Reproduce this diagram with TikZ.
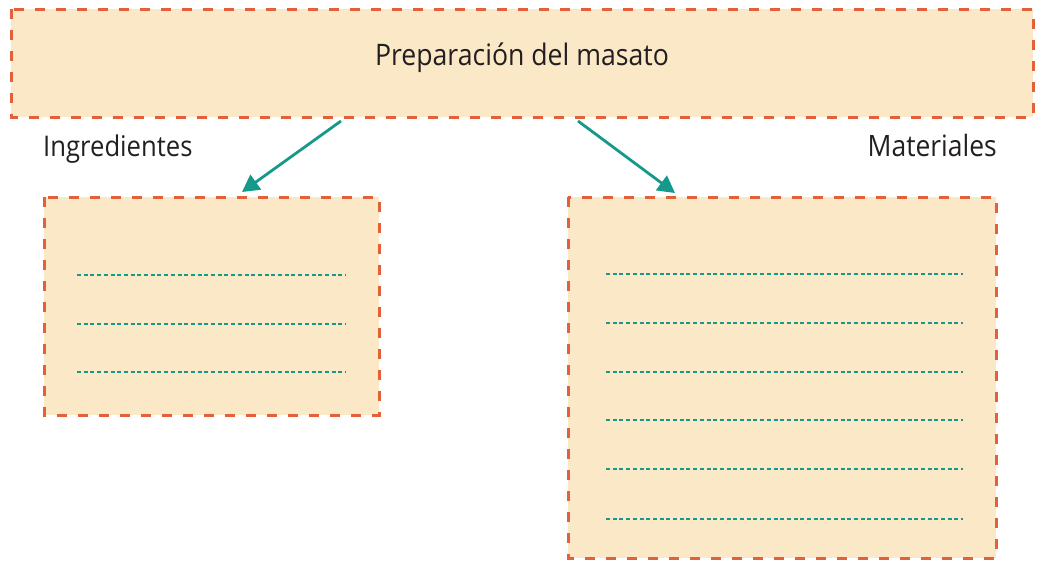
\documentclass[tikz,border=0pt]{standalone}
\usepackage{fontspec}
\setmainfont[FakeStretch=0.9]{Open Sans}
\usetikzlibrary{arrows.meta}
\definecolor{boxfill}{HTML}{FBE8C6}
\definecolor{boxdash}{HTML}{E2613B}
\definecolor{teal}{HTML}{14998B}
\definecolor{txt}{HTML}{231F20}
\tikzset{
  dbox/.style={draw=boxdash, fill=boxfill, line width=3pt, dash pattern=on 10pt off 11pt},
  wline/.style={draw=teal, line width=1.3pt, dash pattern=on 4pt off 2.7pt},
  arr/.style={draw=teal, line width=2.8pt, -{Triangle[length=17pt,width=18pt]}},
  lbl/.style={font=\fontsize{28.5}{32}\selectfont, text=txt, inner sep=0pt},
}
\begin{document}
\begin{tikzpicture}[x=1pt,y=-1pt]
\useasboundingbox (0,0) rectangle (1041,560);
\coordinate (t1) at (11,9); \coordinate (t2) at (1033,117);
\draw[dbox] (t1) rectangle (t2);
\node[lbl, anchor=base, font=\fontsize{29.6}{33}\selectfont] (title) at (522,65) {Preparación del masato};
\node[lbl, anchor=base west] (ing) at (43,156) {Ingredientes};
\node[lbl, anchor=base east, font=\fontsize{29.4}{33}\selectfont] (mat) at (997,156) {Materiales};
\draw[dbox] (44,197) rectangle (379,415);
\draw[dbox] (568,197) rectangle (996,558);
\coordinate (la) at (341,121); \coordinate (lb) at (242,192);
\coordinate (ra) at (578,121); \coordinate (rb) at (675,193);
\draw[arr] (la) -- (lb);
\draw[arr] (ra) -- (rb);
\foreach \y in {275,324,372} \draw[wline] (77,\y) -- (346,\y);
\foreach \y in {274,323,372,420,469,519} \draw[wline] (606,\y) -- (963,\y);
\end{tikzpicture}
\end{document}
